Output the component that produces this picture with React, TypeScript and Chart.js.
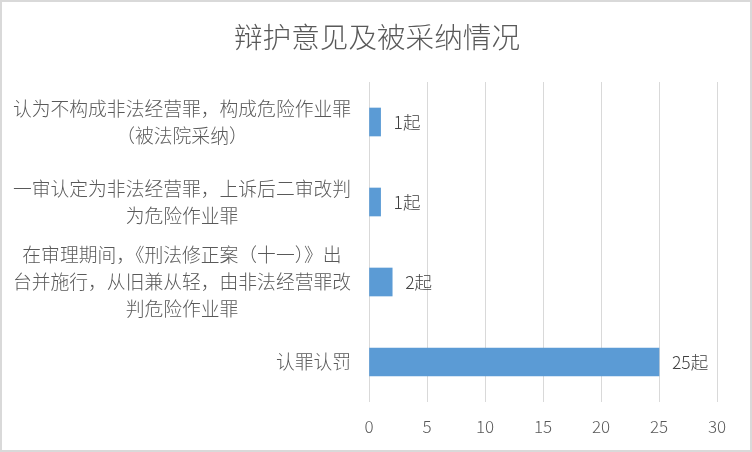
import React, { useEffect, useRef } from "react";
import { Chart, registerables } from "chart.js";

Chart.register(...registerables);

const chartTitle = "辩护意见及被采纳情况";
const categories: string[][] = [
  ["认为不构成非法经营罪，构成危险作业罪", "（被法院采纳）"],
  ["一审认定为非法经营罪，上诉后二审改判", "为危险作业罪"],
  ["在审理期间，《刑法修正案（十一）》出", "台并施行，从旧兼从轻，由非法经营罪改", "判危险作业罪"],
  ["认罪认罚"],
];
const values = [1, 1, 2, 25];
const valueSuffix = "起";
const xMin = 0;
const xMax = 30;
const xStep = 5;

const FONT = '"Noto Sans CJK SC", "Noto Sans", sans-serif';
const TEXT = "#595959";

export default function App() {
  const ref = useRef<HTMLCanvasElement | null>(null);
  useEffect(() => {
    if (!ref.current) return;
    const titleAndLabels = {
      id: "titleAndLabels",
      afterDraw(chart: any) {
        const ctx = chart.ctx;
        const ys = chart.scales.y;
        ctx.save();
        // title
        ctx.font = `300 28.6px ${FONT}`;
        ctx.fillStyle = TEXT;
        ctx.textBaseline = "middle";
        ctx.textAlign = "center";
        ctx.fillText(chartTitle, chart.width / 2 + 1, 35);
        // category labels
        ctx.font = `300 18.8px ${FONT}`;
        const right = chart.chartArea.left - 18;
        const lh = 26.8;
        categories.forEach((lines, i) => {
          const maxW = Math.max(...lines.map((l) => ctx.measureText(l).width));
          const cx = right - maxW / 2;
          const cy = ys.getPixelForTick(i);
          lines.forEach((l, j) => {
            ctx.fillText(l, cx, cy + (j - (lines.length - 1) / 2) * lh);
          });
        });
        ctx.restore();
      },
    };
    const dataLabels = {
      id: "dataLabels",
      afterDatasetsDraw(chart: any) {
        const ctx = chart.ctx;
        const meta = chart.getDatasetMeta(0);
        ctx.save();
        ctx.font = `300 17.5px ${FONT}`;
        ctx.fillStyle = "#404040";
        ctx.textBaseline = "middle";
        ctx.textAlign = "left";
        meta.data.forEach((bar: any, i: number) => {
          ctx.fillText(values[i] + valueSuffix, bar.x + 13, bar.y);
        });
        ctx.restore();
      },
    };
    const chart = new Chart(ref.current, {
      type: "bar",
      data: {
        labels: categories.map((c) => c.join("")),
        datasets: [
          {
            data: values,
            backgroundColor: "#5B9BD5",
            barThickness: 28,
          },
        ],
      },
      options: {
        indexAxis: "y",
        animation: false,
        responsive: true,
        maintainAspectRatio: false,
        layout: { padding: { left: 0, right: 33, top: 80, bottom: 0 } },
        plugins: {
          legend: { display: false },
          tooltip: { enabled: false },
          title: { display: false },
        },
        scales: {
          x: {
            min: xMin,
            max: xMax,
            ticks: {
              stepSize: xStep,
              color: TEXT,
              font: { family: FONT, size: 17, weight: "300" },
              padding: 14,
            },
            grid: { color: "#d9d9d9", drawTicks: false, lineWidth: 1 },
            border: { display: false },
            afterFit(scale: any) {
              scale.height = 48;
            },
          },
          y: {
            ticks: { display: false },
            grid: { display: false },
            border: { display: false },
            afterFit(scale: any) {
              scale.width = 367;
            },
          },
        },
      },
      plugins: [titleAndLabels, dataLabels],
    });
    return () => chart.destroy();
  }, []);
  return (
    <div
      style={{
        position: "fixed",
        left: 0,
        top: 0,
        width: 752,
        height: 452,
        boxSizing: "border-box",
        border: "2px solid #d9d9d9",
        background: "#fff",
      }}
    >
      <div style={{ position: "relative", width: 748, height: 448 }}>
        <canvas ref={ref} />
      </div>
    </div>
  );
}
